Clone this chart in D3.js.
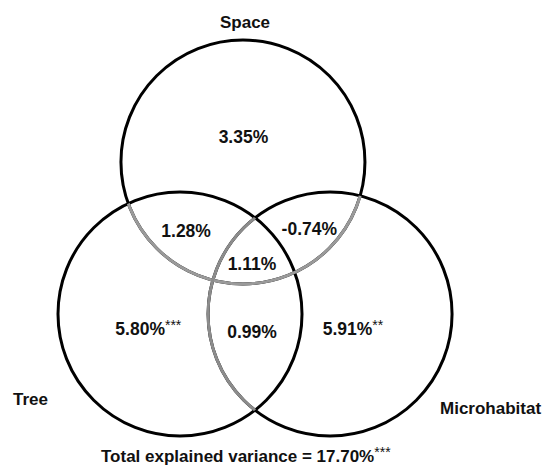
<!DOCTYPE html>
<html lang="en">
<head>
    <meta charset="UTF-8">
    <script src="https://d3js.org/d3.v7.min.js"></script>
    <style>
        body { margin: 0; background: #fff; }
        text { font-family: "Liberation Sans", Arial, sans-serif; font-weight: bold; fill: #111; }
    </style>
</head>
<body>
<div id="chart"></div>
<script>
    // sets of the partition
    const sets = ["Space", "Tree", "Microhabitat"];
    // variance fractions (%) per region
    const regions = ["Space", "Space&Tree", "Space&Microhabitat", "Space&Tree&Microhabitat", "Tree", "Tree&Microhabitat", "Microhabitat"];
    const values = [3.35, 1.28, -0.74, 1.11, 5.80, 0.99, 5.91];
    const stars = ["", "", "", "", "***", "", "**"];
    const totalValue = 17.70;
    const totalStars = "***";

    const W = 546, H = 469;
    const svg = d3.select("#chart").append("svg")
        .attr("width", W).attr("height", H);

    // layout in diagram units (circle radius = 1)
    const x = d3.scaleLinear().domain([0, 1]).range([180, 302]);
    const y = d3.scaleLinear().domain([0, 1]).range([314, 192]);
    const r = x(1) - x(0);

    const circ = {
        "Space": [0.516, 1.246],
        "Tree": [0, 0],
        "Microhabitat": [1.23, 0]
    };

    const defs = svg.append("defs");
    // Space inside Tree or Microhabitat
    const c1 = defs.append("clipPath").attr("id", "inTM");
    ["Tree", "Microhabitat"].forEach(s => c1.append("circle")
        .attr("cx", x(circ[s][0])).attr("cy", y(circ[s][1])).attr("r", r));
    const c2 = defs.append("clipPath").attr("id", "inT");
    c2.append("circle").attr("cx", x(circ.Tree[0])).attr("cy", y(circ.Tree[1])).attr("r", r);

    // black outlines
    svg.selectAll(".ring")
        .data(sets)
        .join("circle")
        .attr("class", "ring")
        .attr("cx", d => x(circ[d][0]))
        .attr("cy", d => y(circ[d][1]))
        .attr("r", r)
        .attr("fill", "none")
        .attr("stroke", "#000")
        .attr("stroke-width", 3);

    // grey inner arcs
    svg.append("circle")
        .attr("cx", x(circ.Space[0])).attr("cy", y(circ.Space[1])).attr("r", r)
        .attr("fill", "none").attr("stroke", "#9a9a9a").attr("stroke-width", 3)
        .attr("clip-path", "url(#inTM)");
    svg.append("circle")
        .attr("cx", x(circ.Microhabitat[0])).attr("cy", y(circ.Microhabitat[1])).attr("r", r)
        .attr("fill", "none").attr("stroke", "#8c8c8c").attr("stroke-width", 3)
        .attr("clip-path", "url(#inT)");

    // region label anchor points (diagram units)
    const labelPos = {
        "Space": [0.52, 1.40],
        "Space&Tree": [0.05, 0.63],
        "Space&Microhabitat": [1.06, 0.65],
        "Space&Tree&Microhabitat": [0.59, 0.36],
        "Tree": [-0.53, -0.17],
        "Tree&Microhabitat": [0.59, -0.20],
        "Microhabitat": [1.17, -0.17]
    };
    const anchor = { "Tree": "start", "Microhabitat": "start" };

    const fmt = v => v.toFixed(2);
    const lab = svg.selectAll(".val")
        .data(regions.map((k, i) => ({ k, v: values[i], s: stars[i] })))
        .join("text")
        .attr("class", "val")
        .attr("x", d => x(labelPos[d.k][0]))
        .attr("y", d => y(labelPos[d.k][1]))
        .attr("text-anchor", d => anchor[d.k] || "middle")
        .style("font-size", "17.5px");
    lab.append("tspan").text(d => fmt(d.v) + "%");
    lab.filter(d => d.s).append("tspan")
        .attr("dy", -5)
        .style("font-size", "14px")
        .style("font-weight", "normal")
        .text(d => d.s);

    // set names
    const namePos = { "Space": [245, 28, "middle"], "Tree": [13, 405, "start"], "Microhabitat": [440, 414, "start"] };
    svg.selectAll(".name")
        .data(sets)
        .join("text")
        .attr("class", "name")
        .attr("x", d => namePos[d][0])
        .attr("y", d => namePos[d][1])
        .attr("text-anchor", d => namePos[d][2])
        .style("font-size", "17px")
        .text(d => d);

    const tot = svg.append("text")
        .attr("x", 101).attr("y", 462)
        .style("font-size", "17px");
    tot.append("tspan").text("Total explained variance = " + fmt(totalValue) + "%");
    tot.append("tspan").attr("dy", -5).style("font-size", "14px").style("font-weight", "normal").text(totalStars);
</script>
</body>
</html>
